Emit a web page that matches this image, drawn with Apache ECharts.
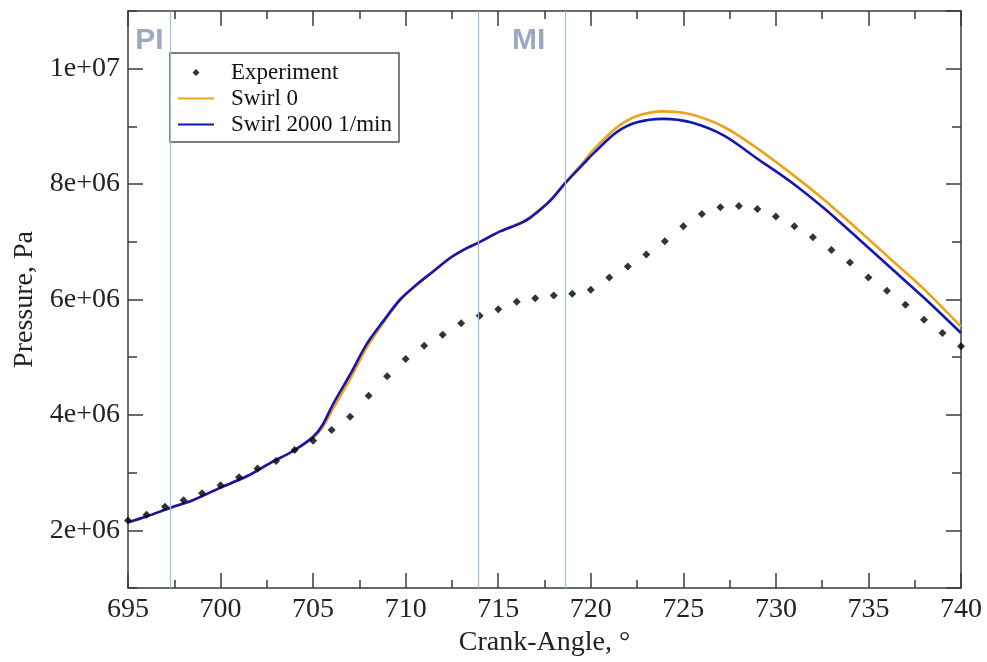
<!DOCTYPE html>
<html><head><meta charset="utf-8">
<script src="https://cdn.jsdelivr.net/npm/echarts@6/dist/echarts.min.js"></script>
<style>html,body{margin:0;padding:0;background:#fff}#c{width:987px;height:662px}</style>
</head><body><div id="c"></div><script>
// Experiment: crank angle (deg) and pressure (MPa)
const expAngle = [695,696,697,698,699,700,701,702,703,704,705,706,707,708,709,710,711,712,713,714,715,716,717,718,719,720,721,722,723,724,725,726,727,728,729,730,731,732,733,734,735,736,737,738,739,740];
const expPressure = [2.17,2.27,2.41,2.52,2.64,2.78,2.92,3.07,3.20,3.39,3.55,3.74,3.97,4.33,4.67,4.97,5.20,5.39,5.59,5.72,5.83,5.96,6.02,6.07,6.10,6.17,6.38,6.57,6.78,7.01,7.27,7.48,7.60,7.62,7.57,7.44,7.27,7.08,6.86,6.64,6.38,6.15,5.91,5.65,5.42,5.19];
// Swirl 2000 1/min
const swirl2000Angle = [695.0,696.0,697.3,698.5,700.0,701.5,702.7,703.9,705.0,705.5,706.1,707.0,707.9,708.8,709.7,710.6,711.5,712.4,713.3,713.9,715.1,716.2,716.7,717.8,718.6,719.6,720.2,721.4,722.5,723.9,725.4,727.2,729.0,730.8,732.6,734.4,736.2,738.0,740.0];
const swirl2000Pressure = [2.14,2.24,2.39,2.52,2.74,2.95,3.17,3.37,3.62,3.82,4.20,4.70,5.23,5.63,6.00,6.26,6.49,6.72,6.89,6.98,7.18,7.32,7.41,7.71,8.01,8.35,8.55,8.90,9.07,9.13,9.07,8.84,8.44,8.04,7.58,7.07,6.55,6.03,5.42];
// Swirl 0
const swirl0Angle = [695.0,696.0,697.3,698.5,700.0,701.5,702.7,703.9,705.0,705.5,706.1,707.0,707.9,708.8,709.7,710.6,711.5,712.4,713.3,713.9,715.1,716.2,716.7,717.8,718.6,719.6,720.1,721.4,722.5,723.9,725.4,727.2,729.0,730.8,732.6,734.4,736.2,738.0,740.0];
const swirl0Pressure = [2.14,2.24,2.39,2.52,2.74,2.95,3.17,3.37,3.60,3.78,4.12,4.62,5.17,5.60,5.99,6.26,6.49,6.72,6.89,6.98,7.18,7.33,7.42,7.72,8.02,8.38,8.58,8.98,9.18,9.26,9.21,8.99,8.62,8.19,7.73,7.22,6.70,6.18,5.53];
const seriesNames = ['Experiment','Swirl 0','Swirl 2000 1/min'];
const markerAngles = [697.27, 713.9, 718.6];
const annotationTexts = ['PI','MI'];
const annotationAngles = [696.16, 716.64];
const annotationPressures = [10.48, 10.48];

const MPa = 1e6;
const zip = (xs, ys) => xs.map((x,i)=>[x, ys[i]*MPa]);
const fmt = v => v.toExponential().replace(/e\+(\d)$/, 'e+0$1');
const serif = 'Liberation Serif';
const axisColor = '#3a3a3a';

const yCommon = {type:'value', min:1e6, max:1.1e7, splitLine:{show:false}};
const xCommon = {type:'value', min:695, max:740, interval:5, splitLine:{show:false}};
const hiddenSymbol = {color:'rgba(0,0,0,0)', borderWidth:0, opacity:0};
// small diamond inside a 36x8 legend icon box
const legendDiamond = 'path://M0,0L0.001,0M36,8L35.999,8M14.5,4L18,0.5L21.5,4L18,7.5Z';

const chart = echarts.init(document.getElementById('c'));
chart.setOption({
  animation:false,
  backgroundColor:'#fff',
  grid:{left:128, right:26, top:11, bottom:69, containLabel:false},
  legend:{
    data:[
      {name:seriesNames[0], icon:legendDiamond},
      {name:seriesNames[1], itemStyle:hiddenSymbol},
      {name:seriesNames[2], itemStyle:hiddenSymbol}
    ],
    orient:'vertical', left:170, top:53,
    itemWidth:36, itemHeight:8, itemGap:3,
    padding:[8,7,6,7], borderColor:'#555', borderWidth:1.5, backgroundColor:'#fff',
    selectedMode:false,
    textStyle:{fontFamily:serif, fontSize:23, lineHeight:23, color:'#111', padding:[0,0,0,12]}
  },
  xAxis:[
    Object.assign({}, xCommon, {position:'bottom',
      axisLine:{show:true, onZero:false, lineStyle:{color:axisColor, width:1.5}},
      axisTick:{inside:true, length:15, lineStyle:{color:axisColor, width:1.5}},
      minorTick:{show:true, splitNumber:2, length:8, lineStyle:{color:axisColor, width:1.5}},
      axisLabel:{fontFamily:serif, fontSize:28, color:'#222', margin:8},
      name:'Crank-Angle, °', nameLocation:'middle', nameGap:41,
      nameTextStyle:{fontFamily:serif, fontSize:28, color:'#222'}}),
    Object.assign({}, xCommon, {position:'top',
      axisLine:{show:true, onZero:false, lineStyle:{color:axisColor, width:1.5}},
      axisTick:{inside:true, length:15, lineStyle:{color:axisColor, width:1.5}},
      minorTick:{show:true, splitNumber:2, length:8, lineStyle:{color:axisColor, width:1.5}},
      axisLabel:{show:false}})
  ],
  yAxis:[
    Object.assign({}, yCommon, {position:'left', splitNumber:5,
      axisLine:{show:true, onZero:false, lineStyle:{color:axisColor, width:1.5}},
      axisTick:{inside:true, length:15, lineStyle:{color:axisColor, width:1.5}},
      axisLabel:{showMinLabel:false, showMaxLabel:false, formatter:fmt, fontFamily:serif, fontSize:28, color:'#222', margin:8},
      name:'Pressure, Pa', nameLocation:'middle', nameGap:86,
      nameTextStyle:{fontFamily:serif, fontSize:28, color:'#222'}}),
    Object.assign({}, yCommon, {position:'left', interval:1e6,
      axisLine:{show:false}, axisTick:{inside:true, length:9, lineStyle:{color:axisColor, width:1.5}},
      axisLabel:{show:false}}),
    Object.assign({}, yCommon, {position:'right', splitNumber:5,
      axisLine:{show:true, onZero:false, lineStyle:{color:axisColor, width:1.5}},
      axisTick:{inside:true, length:15, lineStyle:{color:axisColor, width:1.5}},
      axisLabel:{show:false}}),
    Object.assign({}, yCommon, {position:'right', interval:1e6,
      axisLine:{show:false}, axisTick:{inside:true, length:9, lineStyle:{color:axisColor, width:1.5}},
      axisLabel:{show:false}})
  ],
  series:[
    {
      name:'annotations', type:'scatter', z:1, silent:true,
      symbol:'circle', symbolSize:0.1, itemStyle:{color:'transparent'},
      data: annotationTexts.map((t,i)=>({name:t, value:[annotationAngles[i], annotationPressures[i]*MPa]})),
      label:{show:true, position:'inside', formatter:'{b}', fontFamily:'Liberation Sans', fontWeight:'bold', fontSize:30, color:'#8195b0'},
      markLine:{symbol:['none','none'], silent:true, label:{show:false},
        lineStyle:{color:'#9cbcdb', width:1.2, type:'solid'},
        data: markerAngles.map(v=>({xAxis:v}))}
    },
    {
      name:seriesNames[1], type:'line', z:2, showSymbol:false, symbol:'none', smooth:0.3,
      data: zip(swirl0Angle, swirl0Pressure),
      lineStyle:{color:'#eea21a', width:2.6}, itemStyle:{color:'#eea21a'}
    },
    {
      name:seriesNames[2], type:'line', z:3, showSymbol:false, symbol:'none', smooth:0.3,
      data: zip(swirl2000Angle, swirl2000Pressure),
      lineStyle:{color:'#1515b0', width:2.6}, itemStyle:{color:'#1515b0'}
    },
    {
      name:seriesNames[0], type:'scatter', z:4, symbol:'diamond', symbolSize:8, symbolKeepAspect:true,
      data: zip(expAngle, expPressure), itemStyle:{color:'#000'}
    }
  ]
});
</script></body></html>
